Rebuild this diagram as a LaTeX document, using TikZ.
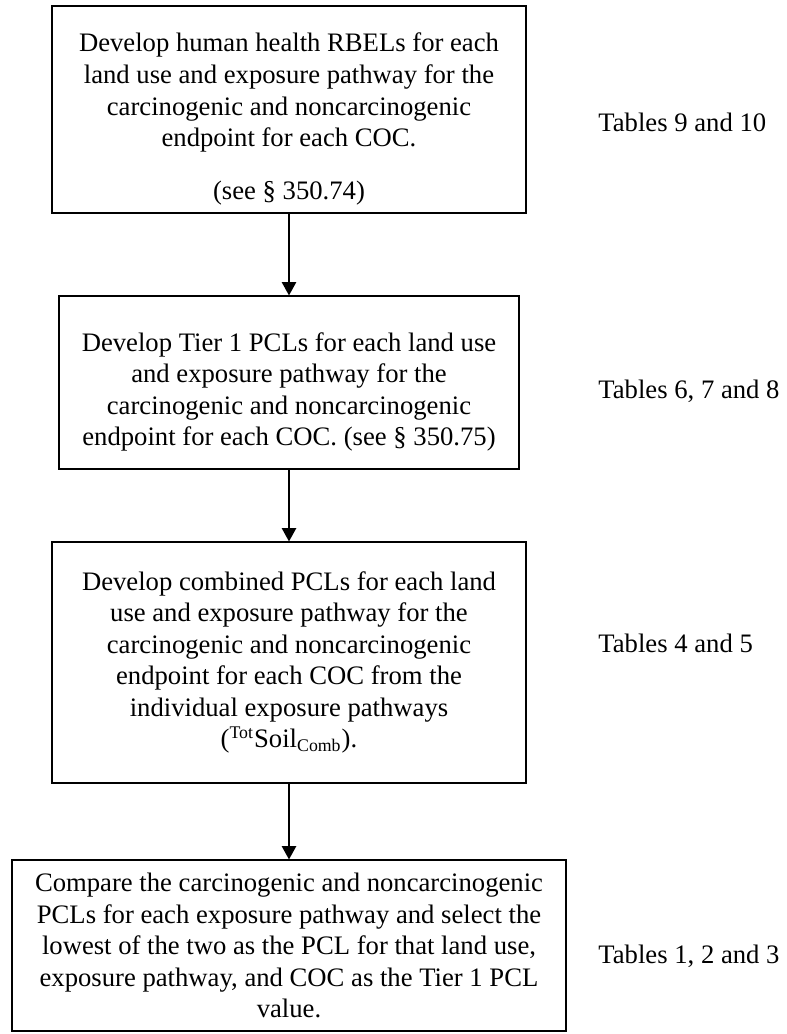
\documentclass[tikz,border=0pt]{standalone}
\usepackage{fontspec}
\setmainfont{Liberation Serif}
\usetikzlibrary{arrows.meta}

\begin{document}
\begin{tikzpicture}[x=0.45pt,y=-0.45pt,
  stepbox/.style={draw,line width=0.55pt,align=center,inner sep=0pt,
    font=\fontsize{12pt}{14.2pt}\selectfont},
  tablenote/.style={anchor=base west,inner sep=0pt,
    font=\fontsize{12pt}{14.2pt}\selectfont},
  flow/.style={line width=0.55pt,-{Triangle[length=6pt,width=6.5pt]}}]
\useasboundingbox (0,0) rectangle (786,1034);

\node[stepbox,minimum width=213.3pt,minimum height=93.15pt] (rbel) at (289,109.5)
  {\rule{0pt}{17pt}Develop human health RBELs for each\\
   land use and exposure pathway for the\\
   carcinogenic and noncarcinogenic\\
   endpoint for each COC.\\[9.5pt]
   (see § 350.74)};
\node[stepbox,minimum width=207pt,minimum height=77.85pt] (tierone) at (289,382.5)
  {\rule{0pt}{17pt}Develop Tier 1 PCLs for each land use\\
   and exposure pathway for the\\
   carcinogenic and noncarcinogenic\\
   endpoint for each COC. (see § 350.75)};
\node[stepbox,minimum width=213.3pt,minimum height=108.45pt] (comb) at (289,662.5)
  {Develop combined PCLs for each land\\
   use and exposure pathway for the\\
   carcinogenic and noncarcinogenic\\
   endpoint for each COC from the\\
   individual exposure pathways\\
   (\textsuperscript{Tot}Soil\textsubscript{Comb}).};
\node[stepbox,minimum width=249.3pt,minimum height=76.95pt] (compare) at (289,945.5)
  {Compare the carcinogenic and noncarcinogenic\\
   PCLs for each exposure pathway and select the\\
   lowest of the two as the PCL for that land use,\\
   exposure pathway, and COC as the Tier 1 PCL\\
   value.};

\draw[flow] (rbel) -- (tierone);
\draw[flow] (tierone) -- (comb);
\draw[flow] (comb) -- (compare);

%\node[tablenote] at (598,125) {Tables 9 and 10};
\node[tablenote] (tab1) at (598,131) {Tables 9 and 10};
\node[tablenote] (tab2) at (598,398) {Tables 6, 7 and 8};
\node[tablenote] (tab3) at (598,652) {Tables 4 and 5};
\node[tablenote] (tab4) at (598,963) {Tables 1, 2 and 3};
\end{tikzpicture}
\end{document}
